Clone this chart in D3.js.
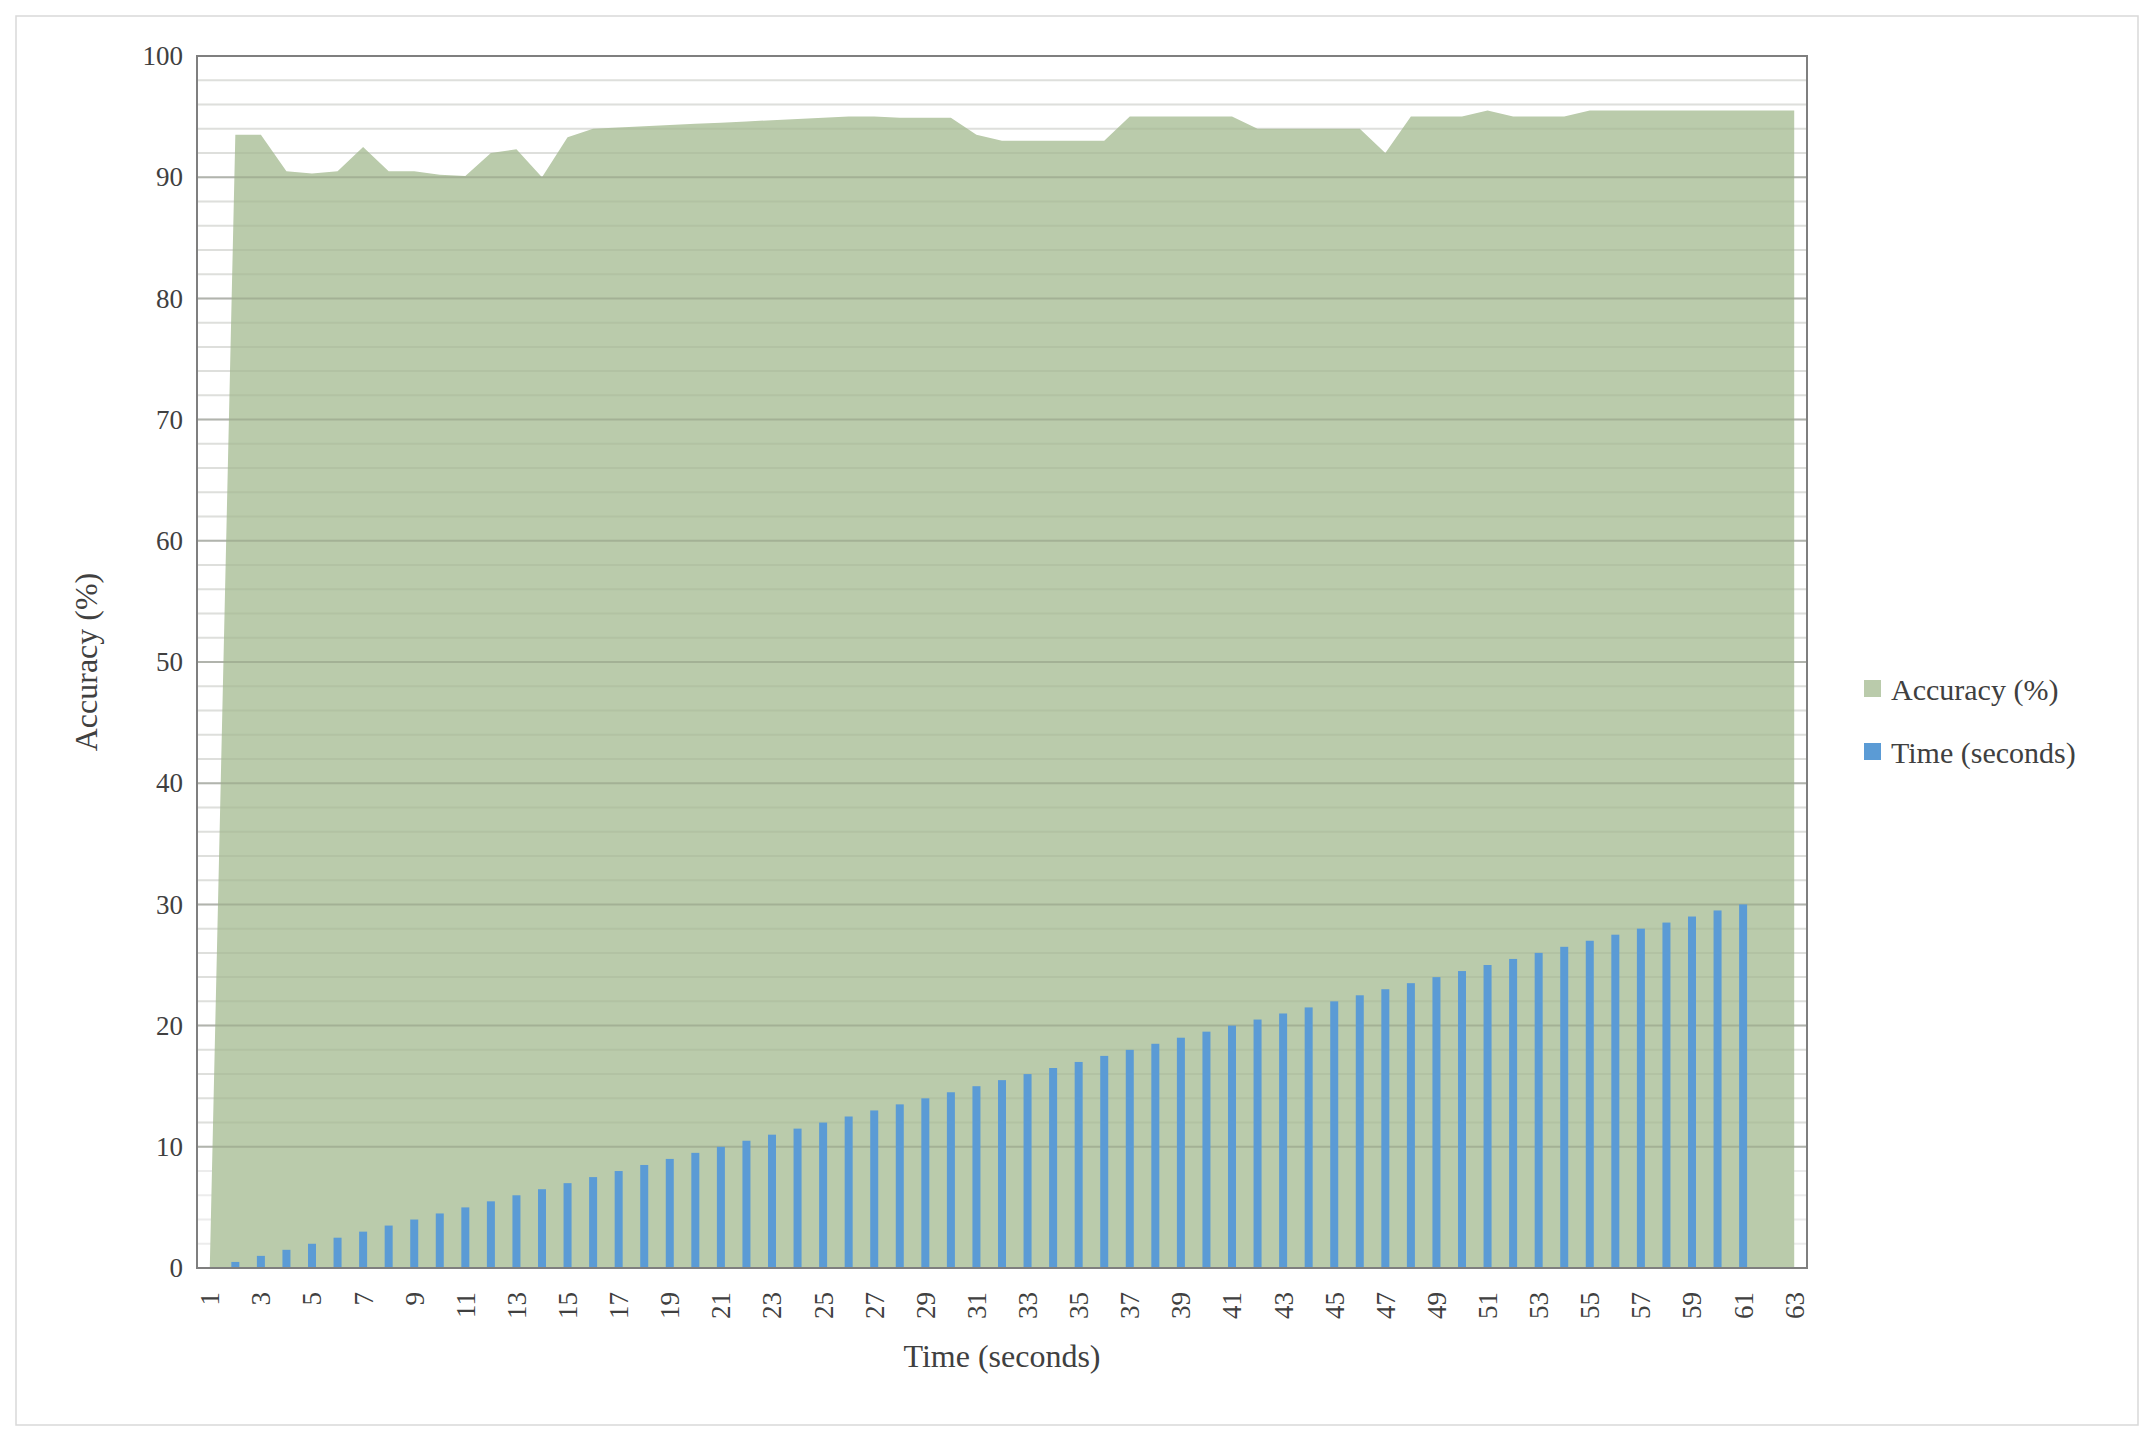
<!DOCTYPE html>
<html><head><meta charset="utf-8">
<script src="https://cdn.jsdelivr.net/npm/d3@7"></script>
<style>body{margin:0;background:#fff}text{font-family:"Liberation Serif","DejaVu Serif",serif;fill:#404040}</style>
</head><body><svg id="c" width="2155" height="1446"></svg>
<script>
const categories = d3.range(1, 64);
const accuracy = [0,93.5,93.5,90.5,90.3,90.5,92.5,90.5,90.5,90.2,90.1,92,92.3,90,93.3,94,94.1,94.2,94.3,94.4,94.5,94.6,94.7,94.8,94.9,95,95,94.9,94.9,94.9,93.5,93,93,93,93,93,95,95,95,95,95,94,94,94,94,94,92,95,95,95,95.5,95,95,95,95.5,95.5,95.5,95.5,95.5,95.5,95.5,95.5,95.5];
const time = [0,0.5,1,1.5,2,2.5,3,3.5,4,4.5,5,5.5,6,6.5,7,7.5,8,8.5,9,9.5,10,10.5,11,11.5,12,12.5,13,13.5,14,14.5,15,15.5,16,16.5,17,17.5,18,18.5,19,19.5,20,20.5,21,21.5,22,22.5,23,23.5,24,24.5,25,25.5,26,26.5,27,27.5,28,28.5,29,29.5,30,0,0];
const yTicks = d3.range(0, 101, 10);

const svg = d3.select("#c");
const L=197,R=1807,T=56,B=1268;
svg.append("rect").attr("x",16).attr("y",16).attr("width",2122).attr("height",1409).attr("fill","none").attr("stroke","#d9d9d9").attr("stroke-width",1.5);
const x = d3.scaleBand().domain(categories).range([L,R]);
const y = d3.scaleLinear().domain([0,100]).range([B,T]);
const cx = d=>x(d)+x.bandwidth()/2;

// minor grid
svg.append("g").selectAll("line").data(d3.range(0,101,2)).join("line")
 .attr("x1",L).attr("x2",R).attr("y1",d=>y(d)).attr("y2",d=>y(d))
 .attr("stroke",d=>d%10===0?"#d0d0d0":"#ececec").attr("stroke-width",2);

const data = categories.map((c,i)=>({c,a:accuracy[i],t:time[i]}));
svg.append("path").datum(data).attr("fill","#bacbab")
 .attr("d",d3.area().x(d=>cx(d.c)).y0(y(0)).y1(d=>y(d.a)));

// grid over area (visible through)
svg.append("g").selectAll("line").data(d3.range(10,100,2)).join("line")
 .attr("x1",L).attr("x2",R).attr("y1",d=>y(d)).attr("y2",d=>y(d))
 .attr("stroke",d=>d%10===0?"rgba(120,130,110,0.35)":"rgba(120,130,110,0.12)").attr("stroke-width",2);

const bw=8;
svg.append("g").selectAll("rect").data(data.filter(d=>d.t>0)).join("rect")
 .attr("x",d=>cx(d.c)-bw/2).attr("width",bw).attr("y",d=>y(d.t)).attr("height",d=>y(0)-y(d.t)).attr("fill","#5b9bd5");

svg.append("rect").attr("x",L).attr("y",T).attr("width",R-L).attr("height",B-T).attr("fill","none").attr("stroke","#7f7f7f").attr("stroke-width",2);

const ya = svg.append("g").attr("transform",`translate(${L},0)`).call(d3.axisLeft(y).tickValues(yTicks).tickSize(0).tickPadding(14));
ya.select(".domain").remove();
ya.selectAll("text").style("font-size","27px").attr("fill","#404040");

const xa = svg.append("g").attr("transform",`translate(0,${B})`).call(d3.axisBottom(x).tickValues(categories.filter(c=>c%2===1)).tickSize(0));
xa.select(".domain").remove();
xa.selectAll("text").style("font-size","27px").attr("fill","#404040")
 .attr("transform","rotate(-90)").attr("text-anchor","end").attr("dx","-12px").attr("dy","-0.1em").attr("x",0).attr("y",0)
 .each(function(){const p=this.parentNode;});
xa.selectAll(".tick text").attr("transform","rotate(-90)").attr("x",-12).attr("y",0).attr("dy","0.35em");

svg.append("text").attr("x",(L+R)/2).attr("y",1367).attr("text-anchor","middle").style("font-size","32px").text("Time (seconds)");
svg.append("text").attr("transform",`translate(97,${(T+B)/2}) rotate(-90)`).attr("text-anchor","middle").style("font-size","32px").text("Accuracy (%)");

const leg=[["Accuracy (%)","#bacbab"],["Time (seconds)","#5b9bd5"]];
const lg=svg.append("g").selectAll("g").data(leg).join("g").attr("transform",(d,i)=>`translate(1864,${689+i*63})`);
lg.append("rect").attr("x",0).attr("y",-9).attr("width",17).attr("height",17).attr("fill",d=>d[1]);
lg.append("text").attr("x",27).attr("y",0).attr("dy","0.35em").style("font-size","30px").text(d=>d[0]);
</script></body></html>
